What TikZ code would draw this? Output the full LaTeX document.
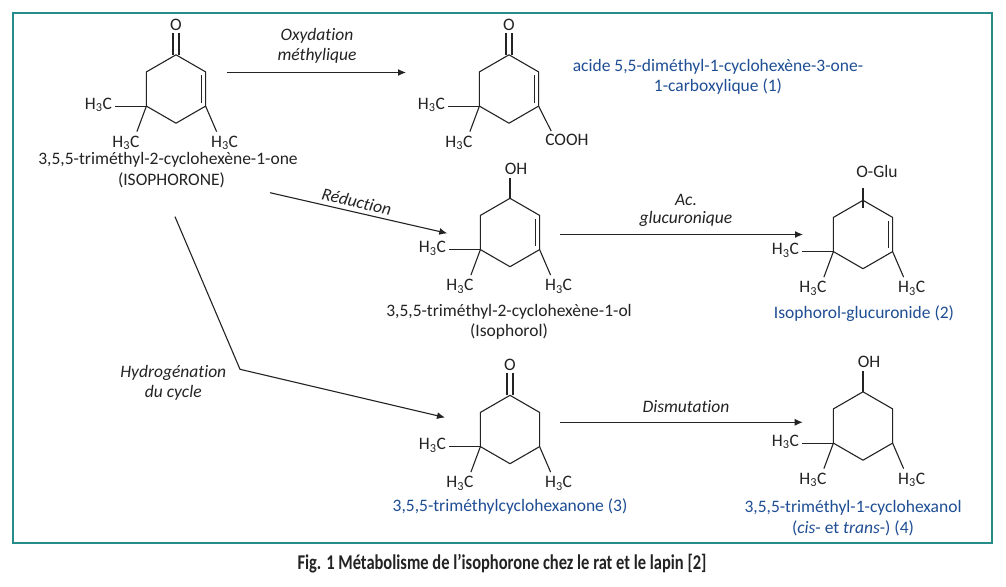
\documentclass[tikz,border=0pt]{standalone}
\usepackage{fontspec}
\usepackage{graphicx}
\setmainfont{Carlito}[Ligatures=NoCommon]
\usetikzlibrary{arrows.meta}
\definecolor{frameteal}{RGB}{38,140,136}
\definecolor{nameblue}{RGB}{31,78,148}
\definecolor{ink}{RGB}{35,35,35}
\newcommand\hexring[1]{%
  \coordinate (#1-1) at ([shift={(0,-34.2)}]#1);
  \coordinate (#1-2) at ([shift={(29.6,-17.1)}]#1);
  \coordinate (#1-3) at ([shift={(29.6,17.1)}]#1);
  \coordinate (#1-4) at ([shift={(0,34.2)}]#1);
  \coordinate (#1-5) at ([shift={(-29.6,17.1)}]#1);
  \coordinate (#1-6) at ([shift={(-29.6,-17.1)}]#1);
  \draw[bond] (#1-1) -- (#1-2) -- (#1-3) -- (#1-4) -- (#1-5) -- (#1-6) -- cycle;}
\newcommand\methyls[1]{%
  \node[txt] (#1-ma) at ([shift={(-48,3)}]#1-5) {H\textsubscript{3}C};
  \draw[bond] (#1-5) -- ++(-31,0);
  \node[txt] (#1-mb) at ([shift={(-20.5,41)}]#1-5) {H\textsubscript{3}C};
  \draw[bond] (#1-5) -- ++(-9.5,25.5);}
\newcommand\rightmethyl[1]{%
  \node[txt] (#1-mc) at ([shift={(19,41)}]#1-3) {H\textsubscript{3}C};
  \draw[bond] (#1-3) -- ++(11,25.5);}
\newcommand\ringdouble[1]{%
  \draw[bond] ([shift={(-4.5,3.5)}]#1-2) -- ([shift={(-4.5,-3.5)}]#1-3);}
\newcommand\carbonyl[1]{%
  \node[txt] (#1-O) at ([shift={(0,-24.5)}]#1-1) {O};
  \draw[bond] ([shift={(-3,0)}]#1-1) -- ++(0,-22);
  \draw[bond] ([shift={(3,0)}]#1-1) -- ++(0,-22);}
\newcommand\hydroxyl[1]{%
  \node[txt] (#1-OH) at ([shift={(6,-24)}]#1-1) {OH};
  \draw[bond] (#1-1) -- ++(0,-20.5);}
\begin{document}
\begin{tikzpicture}[x=1pt,y=-1pt,
  every node/.style={font=\fontsize{17.5}{21}\selectfont},
  bond/.style={draw=ink, line width=1.1pt, line join=round},
  arr/.style={draw=ink, line width=1.1pt, line join=round, -{Latex[length=8pt,width=7pt]}},
  txt/.style={inner sep=0pt, anchor=base, text=ink},
  bluetxt/.style={txt, text=nameblue},
  lbl/.style={txt, font=\fontsize{17.5}{21}\selectfont\itshape}]
\fill[white] (0,0) rectangle (1006,586);
\useasboundingbox (0,0) rectangle (1006,586);
\draw[frameteal, line width=1.4pt] (13,13) rectangle (992,543);

% Isophorone
\coordinate (m1) at (176,89);
\hexring{m1}
\ringdouble{m1}
\carbonyl{m1}
\methyls{m1}
\rightmethyl{m1}
\node[txt] (m1-n1) at (168,164) {3,5,5-triméthyl-2-cyclohexène-1-one};
\node[txt] (m1-n2) at (171.5,185) {(ISOPHORONE)};

% Acid (1)
\coordinate (m2) at (509,89);
\hexring{m2}
\ringdouble{m2}
\carbonyl{m2}
\methyls{m2}
\node[txt] (m2-cooh) at ([shift={(28.3,39.7)}]m2-3) {COOH};
\draw[bond] (m2-3) -- ++(12.6,25);
\node[bluetxt] (m2-n1) at (718,71) {acide 5,5-diméthyl-1-cyclohexène-3-one-};
\node[bluetxt] (m2-n2) at (718,91) {1-carboxylique (1)};

% Isophorol
\coordinate (m3) at (510,232.5);
\hexring{m3}
\ringdouble{m3}
\hydroxyl{m3}
\methyls{m3}
\rightmethyl{m3}
\node[txt] (m3-n1) at (509,316) {3,5,5-triméthyl-2-cyclohexène-1-ol};
\node[txt] (m3-n2) at (509,336) {(Isophorol)};

% Glucuronide (2)
\coordinate (m4) at (863,234.5);
\hexring{m4}
\ringdouble{m4}
\draw[bond] ([shift={(0,-12.5)}]m4-1) -- ([shift={(0,7.5)}]m4-1);
\node[txt] (m4-og) at ([shift={(14,-23)}]m4-1) {O-Glu};
\methyls{m4}
\rightmethyl{m4}
\node[bluetxt] (m4-n1) at (864,318) {Isophorol-glucuronide (2)};

% Cyclohexanone (3)
\coordinate (m5) at (510,429.5);
\hexring{m5}
\carbonyl{m5}
\methyls{m5}
\rightmethyl{m5}
\node[bluetxt] (m5-n1) at (510,511) {3,5,5-triméthylcyclohexanone (3)};

% Cyclohexanol (4)
\coordinate (m6) at (863,426);
\hexring{m6}
\hydroxyl{m6}
\methyls{m6}
\rightmethyl{m6}
\node[bluetxt] (m6-n1) at (853,512.5) {3,5,5-triméthyl-1-cyclohexanol};
\node[bluetxt] (m6-n2) at (853,533) {(\textit{cis}- et \textit{trans}-) (4)};

% Arrows
\coordinate (a1s) at (226.7,72.5);
\coordinate (a1e) at (406,72.5);
\draw[arr] (a1s) -- (a1e);
\node[lbl] (l1a) at (317,41) {Oxydation};
\node[lbl] (l1b) at (317,60) {méthylique};

\coordinate (a2s) at (270,192.7);
\coordinate (a2e) at (447.3,233.3);
\draw[arr] (a2s) -- (a2e);
\node[lbl, anchor=center, rotate=-12.9] (l2) at (356.7,201.7) {Réduction};

\coordinate (a3s) at (560,234.5);
\coordinate (a3e) at (803,234.5);
\draw[arr] (a3s) -- (a3e);
\node[lbl] (l3a) at (686,205) {Ac.};
\node[lbl] (l3b) at (686,223) {glucuronique};

\coordinate (a4s) at (175,216.7);
\coordinate (a4k) at (240,369.3);
\coordinate (a4e) at (445,417.5);
\draw[arr] (a4s) -- (a4k) -- (a4e);
\node[lbl] (l4a) at (173.3,377.7) {Hydrogénation};
\node[lbl] (l4b) at (173.3,397.7) {du cycle};

\coordinate (a5s) at (560,422.3);
\coordinate (a5e) at (802.7,422.3);
\draw[arr] (a5s) -- (a5e);
\node[lbl] (l5) at (686,412) {Dismutation};

% Caption
\node[txt, font=\fontsize{21}{25}\selectfont\bfseries] (cap) at (502,569.5)
  {\resizebox{409pt}{\height}{Fig. 1 Métabolisme de l’isophorone chez le rat et le lapin [2]}};
\end{tikzpicture}
\end{document}
